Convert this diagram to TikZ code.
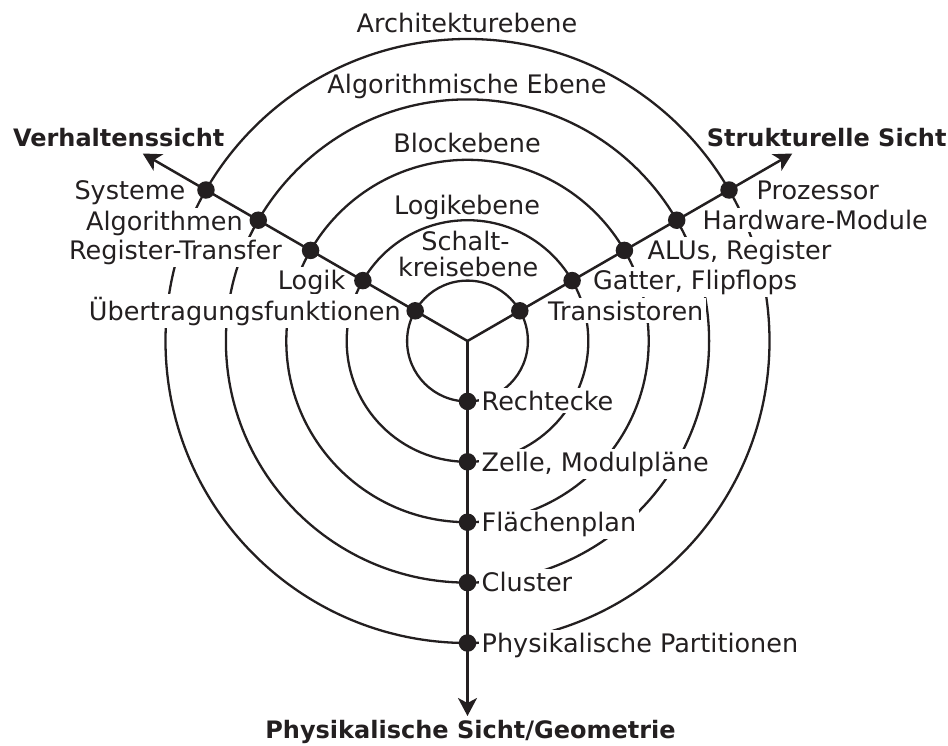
\documentclass[tikz,border=0pt]{standalone}
\usepackage{fontspec}
\setmainfont{DejaVu Sans}
\usetikzlibrary{arrows.meta,calc}
\definecolor{ink}{RGB}{35,31,32}
\begin{document}
\begin{tikzpicture}[x=1pt,y=-1pt,
  ring/.style={draw=ink,line width=2.3pt},
  axis/.style={draw=ink,line width=2.5pt,-{Stealth[length=18pt,width=19pt,inset=5pt]}},
  dot/.style={circle,fill=ink,inner sep=0pt,minimum size=17.5pt},
  lbl/.style={fill=white,text=ink,font=\fontsize{25.5}{26}\selectfont,inner sep=2.5pt},
  level/.style={text=ink,font=\fontsize{25.5}{26}\selectfont,inner sep=0pt,anchor=base},
  view/.style={text=ink,font=\fontsize{24}{26}\selectfont\bfseries,inner sep=0pt,anchor=base}]
\useasboundingbox (0,0) rectangle (948,745);
\coordinate (c) at (467.5,341);

% concentric abstraction levels
\foreach \k in {1,...,5} { \draw[ring] (c) circle ({60.4*\k}); }

% level names
\node[level] (arch) at (467,32.3) {Architekturebene};
\node[level] (algo) at (467,93.3) {Algorithmische Ebene};
\node[level] (block) at (467,152.7) {Blockebene};
\node[level] (logic) at (467,214.3) {Logikebene};
\node[level] (sk1) at (465.5,250.7) {Schalt-};
\node[level] (sk2) at (468.3,276.7) {kreisebene};

% behavioural domain
\node[lbl,anchor=base east] (v5) at (188,199) {Systeme};
\node[lbl,anchor=base east] (v4) at (245.5,230) {Algorithmen};
\node[lbl,anchor=base east] (v3) at (284.5,259) {Register-Transfer};
\node[lbl,anchor=base east] (v2) at (348,289) {Logik};
\node[lbl,anchor=base east] (v1) at (403.5,320) {Übertragungsfunktionen};

% structural domain
\node[lbl,anchor=base west] (s5) at (754,199) {Prozessor};
\node[lbl,anchor=base west] (s4) at (700,229.5) {Hardware-Module};
\node[lbl,anchor=base west] (s3) at (645,259) {ALUs, Register};
\node[lbl,anchor=base west] (s2) at (590.5,289) {Gatter, Flipflops};
\node[lbl,anchor=base west] (s1) at (545.5,320) {Transistoren};

% physical domain
\node[lbl,anchor=base west] (g1) at (479,410) {Rechtecke};
\node[lbl,anchor=base west] (g2) at (479,471) {Zelle, Modulpläne};
\node[lbl,anchor=base west] (g3) at (479,531.6) {Flächenplan};
\node[lbl,anchor=base west] (g4) at (479,591) {Cluster};
\node[lbl,anchor=base west] (g5) at (479,652) {Physikalische Partitionen};

% the three axes of the Y-chart
\coordinate (endV) at ($(c)+({-375*cos(30)},{-375*sin(30)})$);
\coordinate (endS) at ($(c)+({375*cos(30)},{-375*sin(30)})$);
\coordinate (endG) at ($(c)+(0,375)$);
\draw[axis] (c) -- (endV);
\draw[axis] (c) -- (endS);
\draw[axis] (c) -- (endG);

% intersections of levels and domains
\foreach \k in {1,...,5} {
  \node[dot] (dv\k) at ($(c)+({-60.4*\k*cos(30)},{-60.4*\k*sin(30)})$) {};
  \node[dot] (ds\k) at ($(c)+({60.4*\k*cos(30)},{-60.4*\k*sin(30)})$) {};
  \node[dot] (dg\k) at ($(c)+(0,{60.4*\k})$) {};
}

% domain names
\node[view] (behav) at (118.7,146.7) {Verhaltenssicht};
\node[view] (struct) at (826.7,146.7) {Strukturelle Sicht};
\node[view] (phys) at (470.5,738.5) {Physikalische Sicht/Geometrie};
\end{tikzpicture}
\end{document}
